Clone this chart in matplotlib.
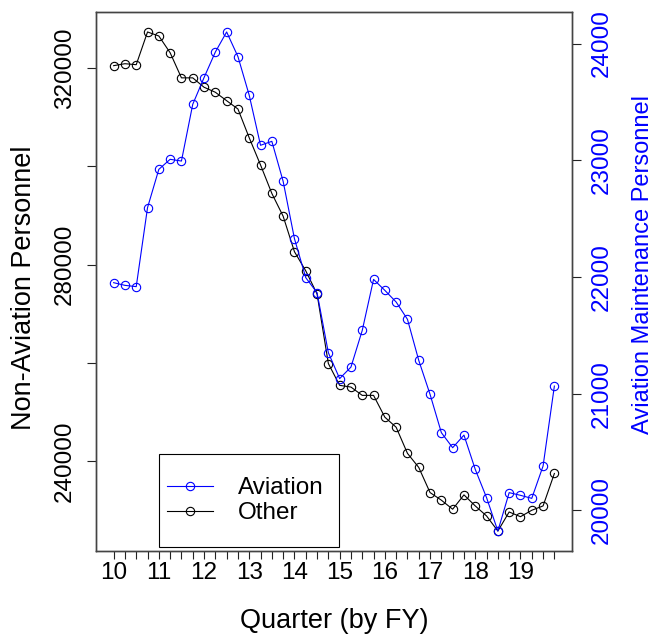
import numpy as np
import matplotlib
matplotlib.use("Agg")
import matplotlib.pyplot as plt
from matplotlib.lines import Line2D
from matplotlib.patches import Rectangle

plt.rcParams['font.family'] = ['Liberation Sans', 'DejaVu Sans']

quarters = np.arange(40) * 0.25 + 10

other = [320500, 320900, 320700, 327360, 326540, 323130, 318020, 318020, 316110, 315090,
         313370, 311680, 305810, 300290, 294500, 289860, 282640, 278750, 274050, 259880,
         255440, 255090, 253400, 253400, 248960, 246910, 241600, 238730, 233620, 232070,
         230230, 233150, 230900, 228860, 225790, 229670, 228710, 230020, 230900, 237500]

aviation = [21951, 21928, 21917, 22594, 22922, 23008, 22993, 23479, 23708, 23927,
            24099, 23888, 23556, 23128, 23162, 22819, 22328, 21994, 21865, 21351,
            21129, 21228, 21542, 21979, 21885, 21785, 21637, 21285, 20994, 20666,
            20537, 20645, 20351, 20109, 19823, 20152, 20129, 20103, 20380, 21065]

left_ticks = [240000, 260000, 280000, 300000, 320000]
left_labels = ['240000', '', '280000', '', '320000']
right_ticks = [20000, 21000, 22000, 23000, 24000]

W, H = 657, 638
fig = plt.figure(figsize=(W / 100, H / 100), dpi=100)
L, R, T, B = 96, 572, 12, 551
AW, AH = R - L, B - T
ax = fig.add_axes([L / W, (H - B) / H, AW / W, AH / H])

def rlim(v):
    lo, hi = min(v), max(v)
    d = (hi - lo) * 0.04
    return lo - d, hi + d

mk = dict(lw=0.8, marker='o', ms=6, mfc='none', mew=0.8)
ax.plot(quarters, other, color='black', **mk)
ax.set_xlim(*rlim(quarters))
ax.set_ylim(*rlim(other))

ax2 = ax.twinx()
ax2.plot(quarters, aviation, color='blue', **mk)
ax2.set_ylim(*rlim(aviation))

fs = 17.5
lfs = 19.5
xt_labels = [str(int(q)) if q == int(q) else '' for q in quarters]
ax.set_xticks(quarters)
ax.set_xticklabels(xt_labels, fontsize=fs)
ax.set_yticks(left_ticks)
ax.set_yticklabels(left_labels, fontsize=fs, rotation=90, va='center')
ax2.set_yticks(right_ticks)
ax2.set_yticklabels([str(t) for t in right_ticks], fontsize=fs, rotation=90,
                    va='center', color='blue')

ax.tick_params(axis='x', length=5.4, width=0.8, color='#222222', pad=2.2)
ax.tick_params(axis='y', length=6.6, width=0.8, color='#222222', pad=8)
ax2.tick_params(axis='y', length=6.6, width=0.8, color='#222222', pad=7)
for a in (ax, ax2):
    for s in a.spines.values():
        s.set_color('#444444')
        s.set_linewidth(1.0)

ax.set_xlabel('Quarter (by FY)', fontsize=lfs, va='center')
ax.xaxis.set_label_coords(0.5, (B - 621.5) / AH)
ax.set_ylabel('Non-Aviation Personnel', fontsize=lfs, va='center')
ax.yaxis.set_label_coords((24 - L) / AW, 0.488)
ax2.set_ylabel('Aviation Maintenance Personnel', fontsize=17, color='blue', va='center')
ax2.yaxis.set_label_coords((643 - L) / AW, 0.531)

handles = [Line2D([], [], color='blue', **mk),
           Line2D([], [], color='black', **mk)]
leg = ax2.legend(handles, ['Aviation', 'Other'], loc='center left',
                 bbox_to_anchor=((159.3 - L) / AW, (B - 500.7) / AH),
                 fontsize=fs, frameon=False, borderpad=0.3,
                 handlelength=1.92, labelspacing=0.12, handletextpad=1.0, borderaxespad=0)

fig.canvas.draw()
bb = leg.get_window_extent()
cy = (bb.y0 + bb.y1) / 2
half_h = 46.7
frame = Rectangle((bb.x0, cy - half_h), (339.3 - 159.3), 2 * half_h, transform=None,
                  fill=False, edgecolor='black', linewidth=0.8, zorder=5)
fig.patches.append(frame)

fig.savefig('out.png', dpi=100)
